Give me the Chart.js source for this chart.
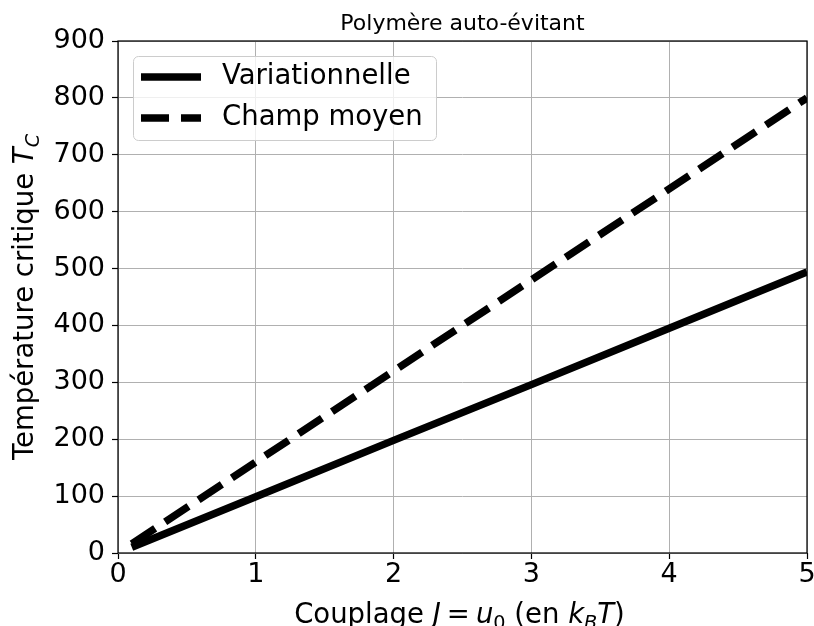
<!DOCTYPE html>
<html lang="fr">
<head>
<meta charset="UTF-8">
<title>Polymère auto-évitant</title>
<script src="https://cdn.jsdelivr.net/npm/chart.js"></script>
<style>
  body { margin: 0; background: #fff; }
  canvas { display: block; }
</style>
</head>
<body>
<canvas id="chart" width="814" height="626"></canvas>
<script>
// ---- données ----
const couplage = [0.1, 1, 2, 3, 4, 5];
const tcVariationnelle = [10, 99, 198, 296, 395, 494];
const tcChampMoyen = [16, 160, 320, 480, 640, 800];
const xTicks = [0, 1, 2, 3, 4, 5];
const yTicks = [0, 100, 200, 300, 400, 500, 600, 700, 800, 900];
const serieNoms = ['Variationnelle', 'Champ moyen'];

const titre = 'Polymère auto-évitant';
// texte "mathtext" : morceaux normaux / italiques / indices
const titreX = [
  { t: 'Couplage ' },
  { t: 'J', it: true }, { gap: 0.22 }, { t: '=' }, { gap: 0.22 },
  { t: 'u', it: true }, { t: '0', sub: true },
  { t: ' (en ' },
  { t: 'k', it: true }, { t: 'B', it: true, sub: true }, { t: 'T', it: true },
  { t: ')' }
];
const titreY = [
  { t: 'Température critique ' },
  { t: 'T', it: true }, { t: 'C', it: true, sub: true }
];

const FONTE = '"DejaVu Sans", sans-serif';

function fontePour(p, taille) {
  const s = p.sub ? taille * 0.7 : taille;
  return (p.it ? 'oblique ' : '') + s + 'px ' + FONTE;
}

// dessine un texte riche centré sur x=0, ligne de base y=0
function texteRiche(ctx, parts, taille) {
  let w = 0;
  parts.forEach(p => {
    if (p.gap) { p.w = p.gap * taille; }
    else { ctx.font = fontePour(p, taille); p.w = ctx.measureText(p.t).width; }
    w += p.w;
  });
  let x = -w / 2;
  ctx.textAlign = 'left';
  ctx.textBaseline = 'alphabetic';
  parts.forEach(p => {
    if (!p.gap) {
      ctx.font = fontePour(p, taille);
      ctx.fillText(p.t, x, p.sub ? taille * 0.2 : 0);
    }
    x += p.w;
  });
}

// cadre, titres et légende façon matplotlib
const decor = {
  id: 'decor',
  afterDatasetsDraw(chart) {
    const ctx = chart.ctx;
    const a = chart.chartArea;
    ctx.save();
    ctx.strokeStyle = '#000';
    ctx.lineWidth = 1.25;
    ctx.strokeRect(a.left, a.top, a.right - a.left, a.bottom - a.top);
    ctx.restore();
  },
  afterDraw(chart) {
    const ctx = chart.ctx;
    const a = chart.chartArea;
    const cx = (a.left + a.right) / 2;
    const cy = (a.top + a.bottom) / 2;
    ctx.save();
    ctx.fillStyle = '#000';
    // titre
    ctx.font = '22px ' + FONTE;
    ctx.textAlign = 'center';
    ctx.textBaseline = 'alphabetic';
    ctx.fillText(titre, cx, 30);
    // titre axe x
    ctx.save();
    ctx.translate(cx - 3, 623);
    texteRiche(ctx, titreX, 27.5);
    ctx.restore();
    // titre axe y
    ctx.save();
    ctx.translate(33, cy);
    ctx.rotate(-Math.PI / 2);
    texteRiche(ctx, titreY, 27.5);
    ctx.restore();

    // légende
    const lx = 133.5, ly = 56.5, lw = 303, lh = 84, r = 5;
    ctx.beginPath();
    ctx.moveTo(lx + r, ly);
    ctx.lineTo(lx + lw - r, ly);
    ctx.arcTo(lx + lw, ly, lx + lw, ly + r, r);
    ctx.lineTo(lx + lw, ly + lh - r);
    ctx.arcTo(lx + lw, ly + lh, lx + lw - r, ly + lh, r);
    ctx.lineTo(lx + r, ly + lh);
    ctx.arcTo(lx, ly + lh, lx, ly + lh - r, r);
    ctx.lineTo(lx, ly + r);
    ctx.arcTo(lx, ly, lx + r, ly, r);
    ctx.closePath();
    ctx.fillStyle = 'rgba(255,255,255,0.8)';
    ctx.fill();
    ctx.strokeStyle = '#cccccc';
    ctx.lineWidth = 1;
    ctx.stroke();

    chart.data.datasets.forEach((ds, i) => {
      const y = 77 + i * 41;
      ctx.beginPath();
      ctx.setLineDash(ds.borderDash || []);
      ctx.lineCap = 'butt';
      ctx.strokeStyle = ds.borderColor;
      ctx.lineWidth = ds.borderWidth;
      ctx.moveTo(141, y);
      ctx.lineTo(201, y);
      ctx.stroke();
      ctx.setLineDash([]);
      ctx.fillStyle = '#000';
      ctx.font = '27.5px ' + FONTE;
      ctx.textAlign = 'left';
      ctx.textBaseline = 'middle';
      ctx.fillText(ds.label, 222, y);
    });
    ctx.restore();
  }
};

const points = (xs, ys) => xs.map((x, i) => ({ x: x, y: ys[i] }));

const data = {
  datasets: [
    {
      label: serieNoms[0],
      data: points(couplage, tcVariationnelle),
      borderColor: '#000',
      borderWidth: 7.5,
      borderCapStyle: 'butt',
      pointRadius: 0,
      tension: 0
    },
    {
      label: serieNoms[1],
      data: points(couplage, tcChampMoyen),
      borderColor: '#000',
      borderWidth: 7.5,
      borderDash: [28, 12],
      borderCapStyle: 'butt',
      pointRadius: 0,
      tension: 0
    }
  ]
};

const grille = {
  color: '#b0b0b0',
  lineWidth: 1,
  drawTicks: true,
  tickLength: 6,
  tickColor: '#000',
  tickWidth: 1.2
};

const config = {
  type: 'line',
  data: data,
  options: {
    responsive: false,
    animation: false,
    events: [],
    layout: { padding: { left: 0, right: 7, top: 41, bottom: 0 } },
    plugins: {
      legend: { display: false },
      title: { display: false },
      tooltip: { enabled: false }
    },
    scales: {
      x: {
        type: 'linear',
        min: xTicks[0],
        max: xTicks[xTicks.length - 1],
        grid: grille,
        border: { display: false },
        afterBuildTicks: s => { s.ticks = xTicks.map(v => ({ value: v })); },
        ticks: {
          color: '#000',
          padding: 0,
          maxRotation: 0,
          font: { family: FONTE, size: 27 }
        },
        afterFit: s => { s.height = 73; s.paddingLeft = 0; s.paddingRight = 0; }
      },
      y: {
        type: 'linear',
        min: yTicks[0],
        max: yTicks[yTicks.length - 1],
        grid: grille,
        border: { display: false },
        afterBuildTicks: s => { s.ticks = yTicks.map(v => ({ value: v })); },
        ticks: {
          color: '#000',
          padding: 7,
          font: { family: FONTE, size: 27 }
        },
        afterFit: s => { s.width = 118; s.paddingTop = 0; s.paddingBottom = 0; }
      }
    }
  },
  plugins: [decor]
};

const ctx = document.getElementById('chart').getContext('2d');
const graphe = new Chart(ctx, config);
</script>
</body>
</html>
